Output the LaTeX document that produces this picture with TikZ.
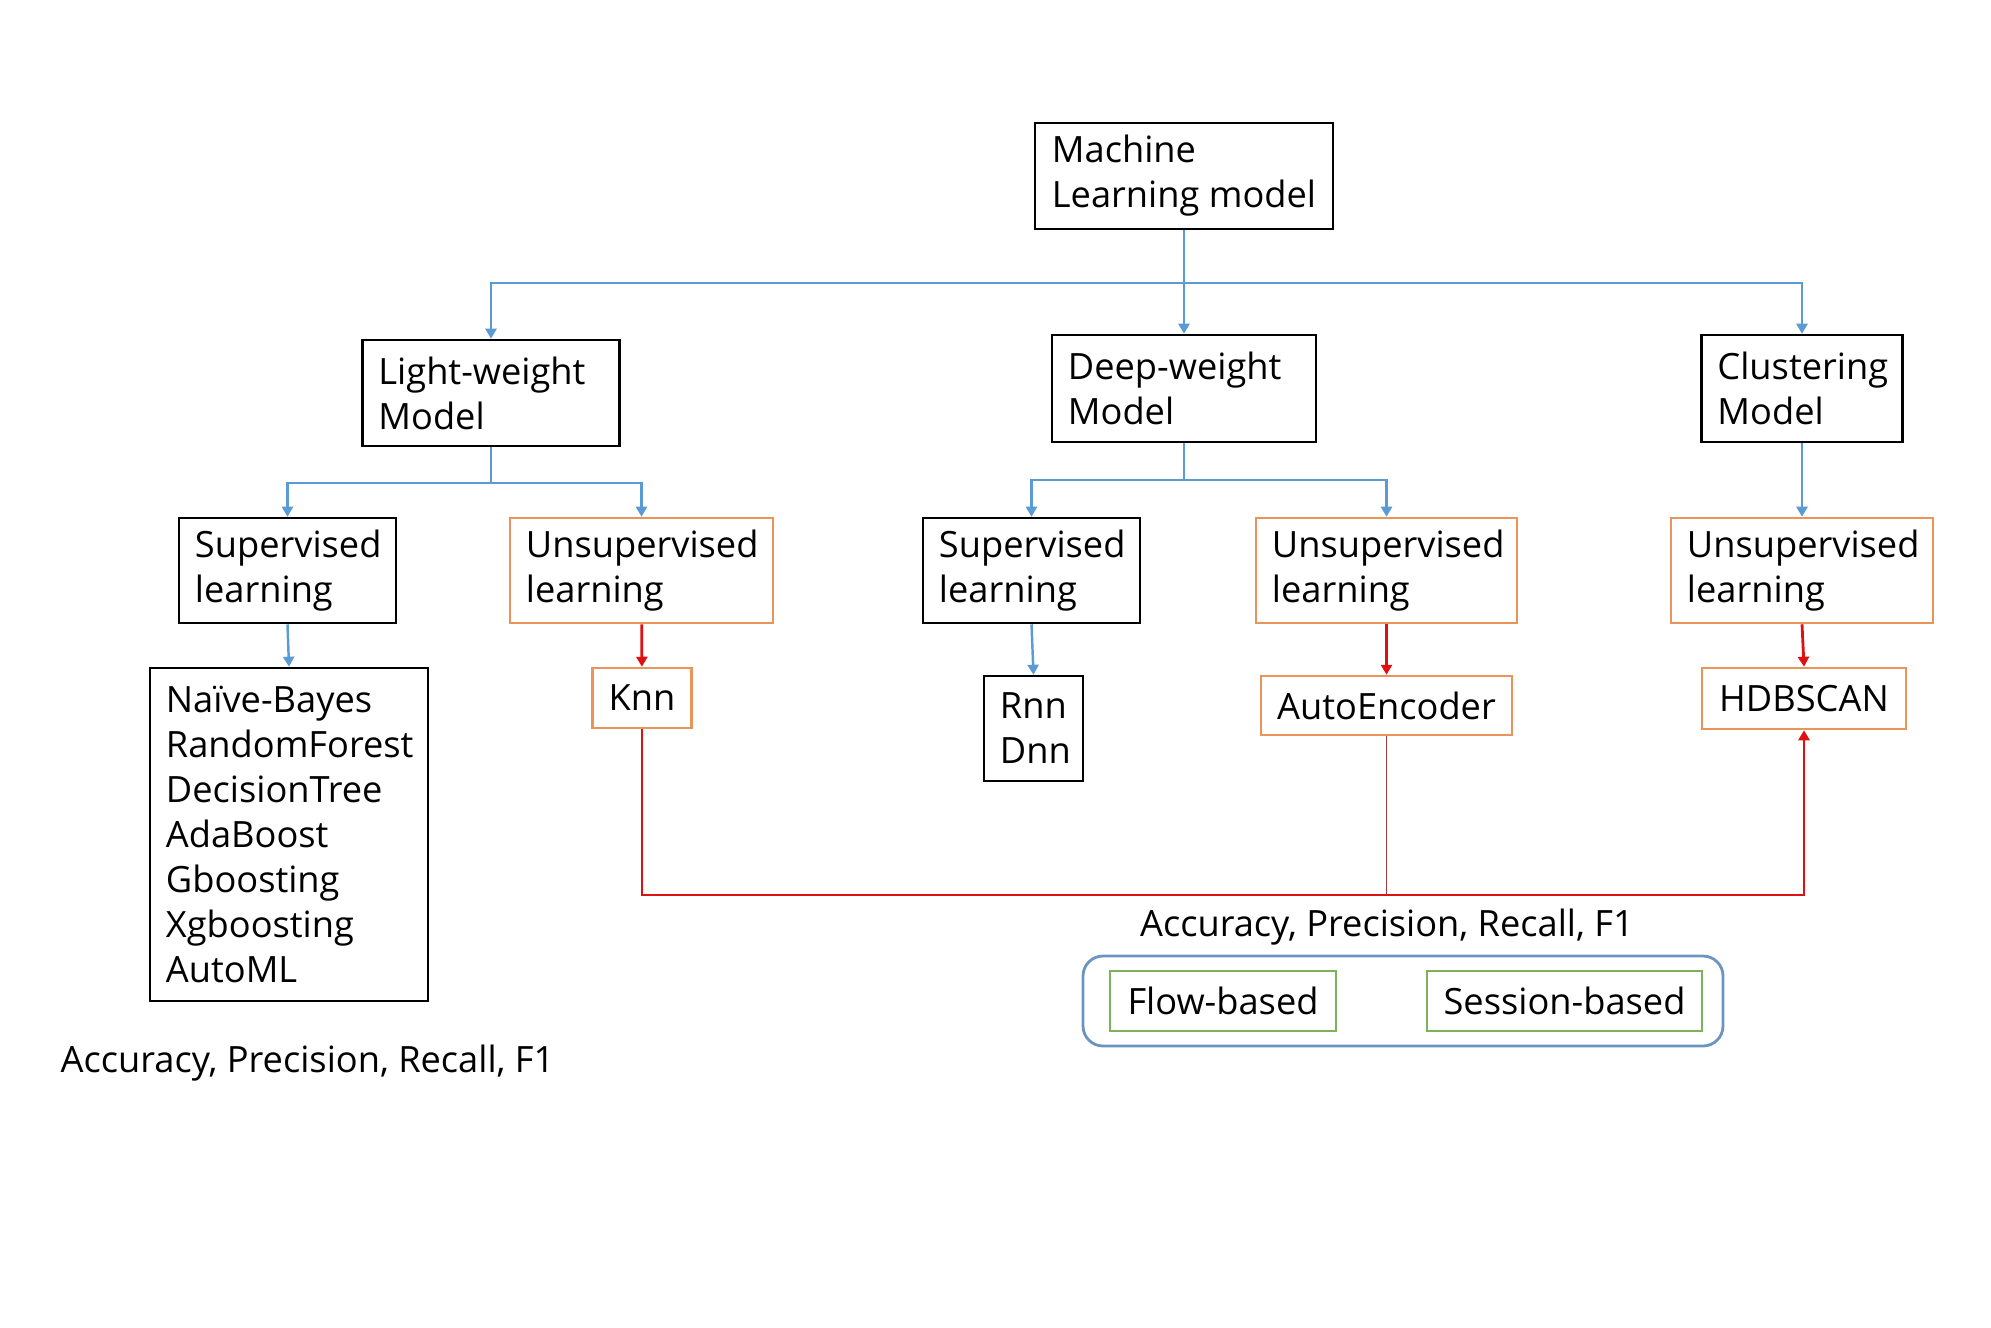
\documentclass[tikz,border=0pt]{standalone}
\usepackage{fontspec}
\setmainfont{Open Sans}
\usepackage{tikz}
\usetikzlibrary{arrows.meta,positioning}
\definecolor{ConnBlue}{HTML}{5B9BD5}
\definecolor{BoxOrange}{HTML}{E9955A}
\definecolor{BoxGreen}{HTML}{7DB15A}
\definecolor{FrameBlue}{HTML}{6B95C0}
\definecolor{LinkRed}{HTML}{E01010}
\definecolor{LinkBrown}{HTML}{A03C3C}
\tikzset{
  mbox/.style={draw=black, line width=0.7pt, align=left, inner xsep=0.16cm, inner ysep=0pt},
  obox/.style={mbox, draw=BoxOrange},
  gbox/.style={mbox, draw=BoxGreen, align=center},
  frame/.style={draw=FrameBlue, line width=0.8pt, rounded corners=0.2cm},
  barr/.style={draw=ConnBlue, line width=0.7pt, -{Triangle[length=1mm,width=1.1mm]}},
  rarr/.style={draw=LinkRed, line width=0.8pt, -{Triangle[length=1mm,width=1.1mm]}},
  rline/.style={draw=LinkBrown, line width=0.5pt}
}
\begin{document}
\begin{tikzpicture}[x=0.01cm,y=-0.01cm,font=\fontsize{10.3}{12.8}\selectfont]
\useasboundingbox (0,0) rectangle (1991,1327);
% top level
\node[mbox, minimum width=2.98cm, minimum height=1.06cm] (root) at (1184,176) {Machine\\Learning model};
\node[mbox, text width=2.25cm, minimum height=1.06cm] (light) at (491,393) {Light-weight\\Model};
\node[mbox, text width=2.32cm, minimum height=1.07cm] (deep) at (1184,388.5) {Deep-weight\\Model};
\node[mbox, text width=1.69cm, minimum height=1.07cm] (clus) at (1802,388.5) {Clustering\\Model};
% learning types
\node[mbox, text width=1.85cm, minimum height=1.05cm] (sup0) at (287.5,570.5) {Supervised\\learning};
\node[obox, text width=2.31cm, minimum height=1.05cm] (uns0) at (641.5,570.5) {Unsupervised\\learning};
\node[mbox, text width=1.85cm, minimum height=1.05cm] (sup1) at (1031.5,570.5) {Supervised\\learning};
\node[obox, text width=2.29cm, minimum height=1.05cm] (uns1) at (1386.5,570.5) {Unsupervised\\learning};
\node[obox, text width=2.30cm, minimum height=1.05cm] (uns2) at (1802,570.5) {Unsupervised\\learning};
% algorithms
\node[mbox, text width=2.46cm, minimum height=3.33cm] (algos) at (289,834.5) {Na\"ive-Bayes\\RandomForest\\DecisionTree\\AdaBoost\\Gboosting\\Xgboosting\\AutoML};
\node[obox, align=center, minimum width=0.96cm, minimum height=0.6cm] (knn) at (642,698) {Knn};
\node[mbox, text width=0.67cm, minimum height=1.05cm] (rnn) at (1033.5,728.5) {Rnn\\Dnn};
\node[obox, align=center, minimum width=2.51cm, minimum height=0.59cm] (auto) at (1386.5,705.5) {AutoEncoder};
\node[obox, align=center, minimum width=2.04cm, minimum height=0.61cm] (hdb) at (1804,698.5) {HDBSCAN};
% evaluation
\node (metric1) at (1387,927) {Accuracy, Precision, Recall, F1};
\draw[frame] (1083,956) rectangle (1723,1046);
\node[gbox, minimum width=2.26cm, minimum height=0.6cm] (flow) at (1223,1001) {Flow-based};
\node[gbox, minimum width=2.75cm, minimum height=0.6cm] (sess) at (1564.5,1001) {Session-based};
\node[anchor=west, inner sep=0pt] (metric0) at (60,1063) {Accuracy, Precision, Recall, F1};
% connectors
\coordinate (j0) at (1184,283);
\coordinate (j1) at (491,483);
\coordinate (j2) at (1184,480);
\coordinate (j3) at (642,895);
\draw[barr] (root.south) -- (j0) -| (light.north);
\draw[barr] (j0) -| (clus.north);
\draw[barr] (j0) -- (deep.north);
\draw[barr] (light.south) -- (j1) -| (sup0.north);
\draw[barr] (j1) -| (uns0.north);
\draw[barr] (deep.south) -- (j2) -| (sup1.north);
\draw[barr] (j2) -| (uns1.north);
\draw[barr] (clus) -- (uns2);
\draw[barr] (sup0.south) -- (algos.north);
\draw[barr] (sup1.south) -- (rnn.north);
\draw[rarr] (uns0) -- (knn);
\draw[rarr] (uns1.south) -- (auto.north);
\draw[rarr] (uns2.south) -- (hdb.north);
\draw[rarr] (knn.south) -- (j3) -| (hdb.south);
\draw[rline] (auto.south) -- (auto.south |- j3);
\end{tikzpicture}
\end{document}
